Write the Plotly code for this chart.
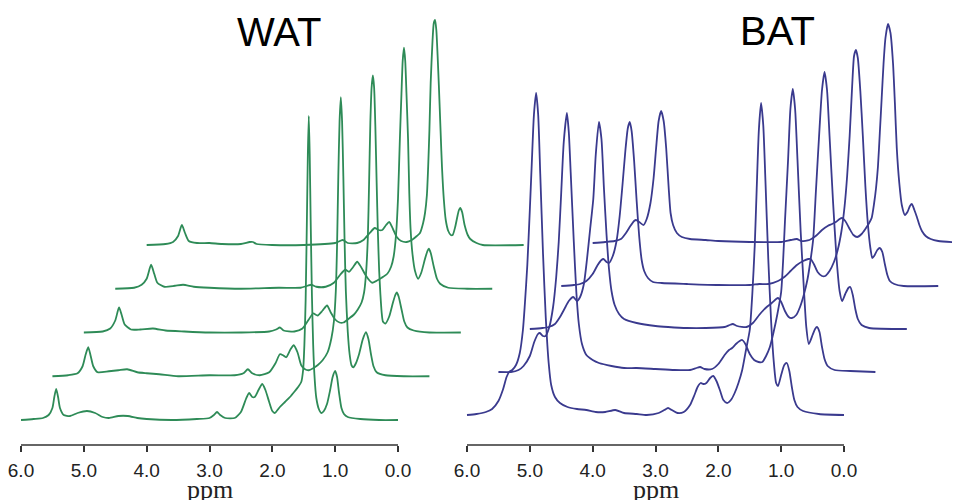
import plotly.graph_objects as go

# ---------------- data: (ppm, intensity) ----------------
WAT_0 = [(6.00,0),(5.80,1),(5.65,2),(5.56,5),(5.50,12),(5.47,23),(5.44,31),(5.41,23),(5.38,12),(5.32,5),(5.22,4),(5.10,7),(4.95,9),(4.82,7),(4.70,3),(4.60,2),(4.45,4),(4.30,4),(4.15,2),(4.00,1),(3.60,0),(3.20,1),(3.00,2),(2.93,5),(2.88,8),(2.83,5),(2.75,2),(2.60,2),(2.50,8),(2.42,21),(2.37,27),(2.32,23),(2.28,23),(2.22,30),(2.16,36),(2.11,30),(2.05,18),(2.00,9),(1.96,7),(1.88,13),(1.80,18),(1.72,23),(1.64,29),(1.59,33),(1.54,38),(1.51,50),(1.49,75),(1.47,120),(1.45,200),(1.435,265),(1.42,304),(1.405,265),(1.39,200),(1.37,125),(1.35,75),(1.33,45),(1.30,22),(1.26,11),(1.22,7),(1.18,9),(1.13,16),(1.08,30),(1.04,43),(1.00,49),(0.97,43),(0.94,28),(0.90,12),(0.86,6),(0.80,3),(0.60,1),(0.30,0),(0.00,0)]
WAT_1 = [(6.00,0),(5.75,1),(5.60,3),(5.52,10),(5.47,22),(5.43,29),(5.39,20),(5.35,10),(5.28,4),(5.10,5),(4.95,6),(4.81,7),(4.65,4),(4.50,3),(4.30,2),(4.00,0),(3.50,1),(3.10,1),(2.96,3),(2.89,7),(2.82,3),(2.70,1),(2.55,4),(2.45,13),(2.38,22),(2.33,21),(2.28,19),(2.21,27),(2.16,31),(2.10,24),(2.04,11),(1.98,7),(1.92,6),(1.85,8),(1.78,11),(1.70,16),(1.62,24),(1.56,38),(1.52,55),(1.49,85),(1.47,130),(1.45,200),(1.43,255),(1.41,279),(1.39,255),(1.37,200),(1.35,135),(1.33,85),(1.30,45),(1.27,22),(1.24,11),(1.21,9),(1.17,13),(1.12,22),(1.06,37),(1.01,44),(0.97,37),(0.93,22),(0.89,10),(0.84,4),(0.70,1),(0.40,0),(0.00,0)]
WAT_2 = [(6.00,0),(5.70,1),(5.58,4),(5.50,12),(5.44,25),(5.40,18),(5.35,8),(5.25,3),(5.10,3),(4.90,4),(4.70,2),(4.40,1),(4.00,0),(3.50,0),(3.05,1),(2.94,3),(2.88,5),(2.82,2),(2.65,1),(2.52,4),(2.42,13),(2.35,19),(2.28,17),(2.20,22),(2.13,27),(2.07,20),(2.00,13),(1.93,10),(1.87,10),(1.78,14),(1.70,18),(1.64,23),(1.58,30),(1.54,40),(1.51,58),(1.48,95),(1.46,150),(1.44,210),(1.42,245),(1.40,257),(1.38,245),(1.36,205),(1.34,150),(1.32,100),(1.30,62),(1.28,38),(1.26,20),(1.24,11),(1.20,9),(1.14,16),(1.08,30),(1.04,38),(1.02,40),(0.99,36),(0.94,22),(0.90,11),(0.85,5),(0.75,2),(0.50,0),(0.00,0)]
WAT_3 = [(6.00,0),(5.70,1),(5.58,4),(5.50,10),(5.43,24),(5.38,15),(5.33,6),(5.22,2),(5.05,3),(4.92,4),(4.75,2),(4.50,1),(4.00,0),(3.40,1),(3.05,1),(2.94,3),(2.88,4),(2.80,2),(2.65,2),(2.52,6),(2.42,14),(2.34,19),(2.28,17),(2.21,22),(2.15,27),(2.09,22),(2.02,14),(1.95,8),(1.91,6),(1.84,8),(1.76,11),(1.67,15),(1.61,22),(1.57,32),(1.53,55),(1.50,90),(1.47,150),(1.445,195),(1.425,228),(1.405,241),(1.385,228),(1.365,195),(1.34,150),(1.32,95),(1.30,60),(1.27,35),(1.23,18),(1.18,10),(1.13,16),(1.07,30),(1.03,38),(1.01,40),(0.98,36),(0.93,22),(0.88,10),(0.83,5),(0.70,1),(0.40,0),(0.00,0)]
WAT_4 = [(6.00,0),(5.70,1),(5.58,3),(5.50,9),(5.44,20),(5.39,12),(5.33,4),(5.20,2),(5.00,2),(4.80,1),(4.50,1),(4.36,3),(4.31,3),(4.25,1),(4.00,0),(3.50,0),(3.00,2),(2.88,5),(2.80,2),(2.65,2),(2.55,5),(2.45,12),(2.37,17),(2.31,15),(2.25,15),(2.19,20),(2.14,23),(2.08,16),(2.02,8),(1.95,4),(1.86,3),(1.78,5),(1.70,9),(1.65,12),(1.60,22),(1.57,32),(1.54,50),(1.52,78),(1.50,115),(1.48,162),(1.45,205),(1.43,222),(1.41,225),(1.39,215),(1.37,190),(1.35,160),(1.32,110),(1.30,78),(1.27,45),(1.24,25),(1.20,14),(1.16,10),(1.13,10),(1.09,18),(1.05,30),(1.03,35),(1.01,37),(0.98,33),(0.94,20),(0.89,10),(0.85,6),(0.75,2),(0.65,0),(0.00,0)]

BAT_0 = [(6.00,0),(5.85,1),(5.70,3),(5.60,6),(5.50,14),(5.43,25),(5.37,38),(5.33,43),(5.28,45),(5.22,50),(5.16,62),(5.11,85),(5.08,110),(5.04,150),(5.00,205),(4.97,250),(4.935,300),(4.90,322),(4.867,300),(4.834,241),(4.79,161),(4.746,97),(4.70,52),(4.66,30),(4.60,18),(4.52,12),(4.40,8),(4.25,6),(4.10,5),(3.95,3),(3.80,3),(3.64,5),(3.50,2),(3.30,1),(3.14,0),(2.95,2),(2.86,5),(2.80,7),(2.74,5),(2.65,2),(2.55,3),(2.45,10),(2.38,20),(2.33,28),(2.28,32),(2.24,31),(2.19,32),(2.13,37),(2.08,39),(2.03,34),(1.97,24),(1.92,15),(1.86,12),(1.80,15),(1.74,22),(1.68,32),(1.62,45),(1.56,65),(1.50,85),(1.46,120),(1.42,170),(1.39,225),(1.355,285),(1.32,312),(1.285,290),(1.25,234),(1.205,156),(1.16,94),(1.12,55),(1.08,32),(1.05,29),(1.00,40),(0.95,50),(0.91,52),(0.87,44),(0.83,28),(0.79,15),(0.74,8),(0.65,4),(0.40,1),(0.00,0)]
BAT_1 = [(6.00,0),(5.80,0),(5.68,2),(5.60,6),(5.50,16),(5.43,30),(5.37,38),(5.34,39),(5.29,36),(5.25,36),(5.19,45),(5.13,65),(5.08,95),(5.04,130),(5.00,180),(4.96,230),(4.91,259),(4.88,240),(4.85,200),(4.80,130),(4.76,80),(4.72,48),(4.67,28),(4.60,17),(4.50,12),(4.40,9),(4.20,6),(4.00,4),(3.80,4),(3.50,3),(3.20,2),(2.95,2),(2.85,4),(2.79,5),(2.72,3),(2.60,3),(2.50,8),(2.40,17),(2.33,22),(2.28,24),(2.22,28),(2.16,31),(2.12,32),(2.07,28),(2.00,18),(1.93,12),(1.86,10),(1.80,10),(1.74,16),(1.68,25),(1.62,40),(1.56,58),(1.50,80),(1.47,110),(1.44,150),(1.39,212),(1.353,263),(1.315,283),(1.278,263),(1.24,212),(1.19,141),(1.14,85),(1.10,45),(1.06,28),(1.00,37),(0.96,43),(0.93,45),(0.89,40),(0.85,25),(0.81,13),(0.76,6),(0.65,2),(0.40,1),(0.00,0)]
BAT_2 = [(6.00,0),(5.80,1),(5.70,2),(5.60,5),(5.52,12),(5.45,20),(5.38,28),(5.31,32),(5.25,28),(5.20,32),(5.14,45),(5.09,70),(5.04,100),(4.99,130),(4.95,175),(4.90,207),(4.86,190),(4.82,140),(4.78,95),(4.74,60),(4.70,38),(4.65,24),(4.58,15),(4.50,10),(4.30,6),(4.00,3),(3.80,2),(3.50,1),(3.20,1),(2.90,2),(2.82,4),(2.77,5),(2.70,3),(2.55,2),(2.45,6),(2.35,14),(2.28,19),(2.23,22),(2.15,26),(2.08,30),(2.05,31),(2.00,27),(1.94,18),(1.88,12),(1.83,11),(1.76,14),(1.70,22),(1.64,34),(1.58,50),(1.53,70),(1.49,90),(1.445,140),(1.39,200),(1.35,239),(1.31,257),(1.27,239),(1.23,193),(1.175,128),(1.12,72),(1.07,38),(1.03,28),(0.98,35),(0.93,41),(0.90,42),(0.86,34),(0.82,20),(0.78,10),(0.72,4),(0.60,1),(0.00,0)]
BAT_3 = [(6.00,0),(5.80,1),(5.70,2),(5.60,5),(5.50,12),(5.42,21),(5.36,26),(5.33,27),(5.28,24),(5.24,23),(5.18,30),(5.12,45),(5.07,70),(5.02,105),(4.98,135),(4.94,158),(4.91,164),(4.88,155),(4.84,125),(4.80,85),(4.76,50),(4.72,26),(4.68,15),(4.62,8),(4.54,4),(4.40,3),(4.00,2),(3.50,1),(3.00,1),(2.85,2),(2.70,2),(2.55,5),(2.45,9),(2.35,15),(2.25,21),(2.15,25),(2.07,27),(2.03,27),(1.98,22),(1.92,14),(1.85,10),(1.80,10),(1.73,15),(1.66,24),(1.60,36),(1.54,55),(1.49,80),(1.45,110),(1.41,150),(1.37,200),(1.34,230),(1.31,236),(1.28,228),(1.24,195),(1.20,150),(1.16,100),(1.12,62),(1.08,38),(1.05,28),(1.02,30),(0.97,36),(0.93,38),(0.89,34),(0.85,22),(0.81,11),(0.77,5),(0.70,2),(0.55,0),(0.00,0)]
BAT_4 = [(6.00,0),(5.80,1),(5.65,2),(5.55,4),(5.47,10),(5.40,17),(5.34,22),(5.31,23),(5.26,21),(5.19,18),(5.14,24),(5.08,40),(5.03,65),(4.99,95),(4.95,122),(4.91,132),(4.87,122),(4.83,95),(4.79,55),(4.76,30),(4.72,18),(4.66,10),(4.58,6),(4.45,4),(4.20,3),(4.00,2),(3.50,1),(3.00,1),(2.85,3),(2.75,4),(2.68,2),(2.55,3),(2.45,7),(2.35,13),(2.26,17),(2.19,19),(2.13,21),(2.07,24),(2.03,25),(1.98,22),(1.91,14),(1.85,8),(1.79,6),(1.72,9),(1.66,14),(1.60,20),(1.56,25),(1.52,40),(1.49,55),(1.46,76),(1.43,110),(1.40,145),(1.37,180),(1.34,205),(1.30,219),(1.26,210),(1.22,180),(1.19,140),(1.16,95),(1.12,60),(1.08,38),(1.03,28),(0.99,31),(0.95,37),(0.92,39),(0.88,33),(0.84,26),(0.80,18),(0.76,12),(0.70,7),(0.62,4),(0.50,2),(0.00,0)]

TICK_VALUES = [6, 5, 4, 3, 2, 1, 0]
TICK_TEXT = ["6.0", "5.0", "4.0", "3.0", "2.0", "1.0", "0.0"]
PANEL_TITLES = ["WAT", "BAT"]
AXIS_TITLE = "ppm"

WAT_SPECTRA = [WAT_0, WAT_1, WAT_2, WAT_3, WAT_4]
BAT_SPECTRA = [BAT_0, BAT_1, BAT_2, BAT_3, BAT_4]

# ---------------- style ----------------
GREEN = "#2e8b57"
BLUE = "#3a3a8e"
PPM_SHIFT = 0.5          # horizontal stacking offset (ppm)
WAT_STEP = 43.75         # vertical stacking offset
BAT_STEP = 43.0
AXIS_Y = 0.126           # paper position of the ppm axes

fig = go.Figure()

def add_stack(spectra, color, step, xa, ya):
    for i, spec in enumerate(spectra):
        ppm, inten = zip(*spec)
        fig.add_trace(go.Scatter(
            x=[p - PPM_SHIFT * i for p in ppm],
            y=[v + step * i for v in inten],
            mode="lines",
            line=dict(color=color, width=1.8, shape="spline", smoothing=0.6),
            xaxis=xa, yaxis=ya, hoverinfo="skip", showlegend=False))

add_stack(WAT_SPECTRA, GREEN, WAT_STEP, "x", "y")
add_stack(BAT_SPECTRA, BLUE, BAT_STEP, "x2", "y2")

tickfont = dict(family="Arial, Liberation Sans, sans-serif", size=19, color="#222")
common_x = dict(anchor="free", position=AXIS_Y, showline=False, showgrid=False,
                zeroline=False, tickmode="array", tickvals=TICK_VALUES,
                ticktext=TICK_TEXT, ticks="outside", ticklen=6, tickwidth=1.5,
                tickcolor="#333", tickfont=tickfont, ticklabelstandoff=2,
                ticklabeloverflow="allow")

serif = dict(family="Liberation Serif, Times New Roman, serif", size=26, color="#222")
sans_big = dict(family="Arial, Liberation Sans, sans-serif", size=40, color="black")

fig.update_layout(
    width=960, height=500,
    margin=dict(l=0, r=0, t=0, b=0),
    paper_bgcolor="white", plot_bgcolor="rgba(0,0,0,0)",
    xaxis=dict(domain=[0, 532 / 960], range=[6.207, -2.260], **common_x),
    yaxis=dict(domain=[0, 1], range=[-88, 412], visible=False, anchor="x"),
    xaxis2=dict(domain=[432 / 960, 1.0], range=[6.4297, -1.9736], **common_x),
    yaxis2=dict(domain=[0, 1], range=[-93, 407], visible=False, anchor="x2"),
    shapes=[
        dict(type="line", xref="x", yref="paper", x0=6, x1=0, y0=AXIS_Y, y1=AXIS_Y,
             line=dict(color="#333", width=1.5)),
        dict(type="line", xref="x2", yref="paper", x0=6, x1=0, y0=AXIS_Y, y1=AXIS_Y,
             line=dict(color="#333", width=1.5)),
    ],
    annotations=[
        dict(text=AXIS_TITLE, x=3, xref="x", y=0.038, yref="paper", showarrow=False,
             yanchor="middle", font=serif),
        dict(text=AXIS_TITLE, x=3, xref="x2", y=0.038, yref="paper", showarrow=False,
             yanchor="middle", font=serif),
        dict(text=PANEL_TITLES[0], x=1.894, xref="x", y=0.952, yref="paper", showarrow=False,
             yanchor="middle", font=sans_big),
        dict(text=PANEL_TITLES[1], x=1.066, xref="x2", y=0.954, yref="paper", showarrow=False,
             yanchor="middle", font=sans_big),
    ],
)

fig.write_html("out.html")
